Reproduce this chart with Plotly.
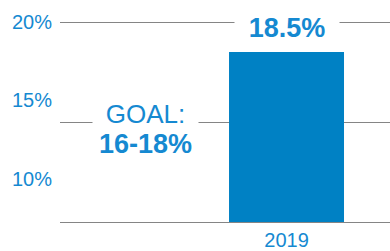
import plotly.graph_objects as go

# Data
categories = ["2019"]
values = [18.5]
tick_vals = [10, 15, 20]
tick_labels = ["10%", "15%", "20%"]
goal_title = "GOAL:"
goal_range = "16-18%"

BLUE = "#0081C4"
TEXT_BLUE = "#1589D1"
GRID = "#858585"
FONT = "Liberation Sans, Arial, sans-serif"

fig = go.Figure()
fig.add_trace(go.Bar(
    x=categories, y=values, marker=dict(color=BLUE, line=dict(width=0)),
    width=0.8, hoverinfo="skip", showlegend=False,
))
# helper trace so the label axis exists
fig.add_trace(go.Scatter(x=categories, y=[None], yaxis="y2", mode="markers",
                         showlegend=False, hoverinfo="skip"))

fig.update_layout(
    width=390, height=251,
    margin=dict(l=60, r=0, t=20, b=29),
    paper_bgcolor="white", plot_bgcolor="white",
    font=dict(family=FONT, color=TEXT_BLUE),
    xaxis=dict(type="category", range=[-1.576, 0.72], showgrid=False,
               zeroline=False, showline=True, linecolor=GRID, linewidth=1,
               tickfont=dict(size=20, color=TEXT_BLUE), ticks=""),
    yaxis=dict(range=[10, 20.1], tickvals=tick_vals, showticklabels=False,
               showgrid=True, gridcolor=GRID, gridwidth=1, zeroline=False),
    yaxis2=dict(range=[7.24, 20.1], overlaying="y", side="left",
                showgrid=False, showticklabels=False, zeroline=False,
                visible=False),
)

# tick labels (left aligned)
for v, lab in zip(tick_vals, tick_labels):
    fig.add_annotation(x=-50/330, xref="paper", y=v, yref="y2",
                       text=lab, showarrow=False, xanchor="left",
                       yanchor="middle",
                       font=dict(size=20, color=TEXT_BLUE))

# value label
for i, v in enumerate(values):
    fig.add_annotation(x=i, y=v, xref="x", yref="y", text=f"<b>{v}%</b>",
                       showarrow=False, xanchor="center", yanchor="middle",
                       yshift=24,
                       font=dict(size=27, color=TEXT_BLUE),
                       bgcolor="white", width=100, borderpad=2)

# goal label
fig.add_annotation(x=85/330, xref="paper", y=15, yref="y", text=goal_title,
                   showarrow=False, xanchor="center", yanchor="middle",
                   yshift=8,
                   font=dict(size=26, color=TEXT_BLUE),
                   bgcolor="white", width=101, borderpad=2)
fig.add_annotation(x=85/330, xref="paper", y=15, yref="y",
                   text=f"<b>{goal_range}</b>",
                   showarrow=False, xanchor="center", yanchor="middle",
                   yshift=-22,
                   font=dict(size=27, color=TEXT_BLUE))

fig.write_html("out.html", config={"displayModeBar": False},
               post_script="document.body.style.margin='0';"
                           "document.body.style.overflow='hidden';")
